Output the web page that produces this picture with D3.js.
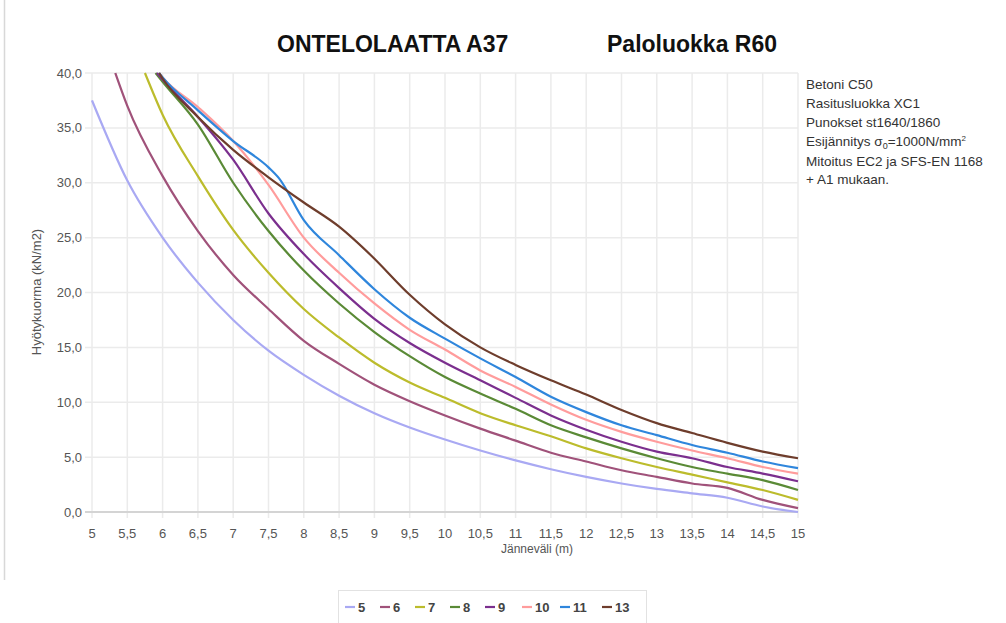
<!DOCTYPE html>
<html>
<head>
<meta charset="utf-8">
<script src="https://cdn.jsdelivr.net/npm/d3@7"></script>
<style>
  html, body { margin: 0; padding: 0; background: #fff; }
  svg { display: block; font-family: "Liberation Sans", Arial, sans-serif; }
</style>
</head>
<body>
<svg id="chart" width="1006" height="623"></svg>
<script>
// Slab depth classes shown in the legend
const categories = ["5", "6", "7", "8", "9", "10", "11", "13"];
const colors = ["#a9a9f3", "#a0527a", "#bcbc2c", "#5a8a36", "#7b2f8e", "#ff9c9c", "#2f86dc", "#6e3d2c"];

// Span (m) / imposed load (kN/m2) pairs for each class
const s5 = [[5,37.5],[5.5,30.2],[6,25.0],[6.5,20.9],[7,17.5],[7.5,14.7],[8,12.5],[8.5,10.6],[9,9.0],[9.5,7.7],[10,6.6],[10.5,5.6],[11,4.7],[11.5,3.9],[12,3.2],[12.5,2.6],[13,2.1],[13.5,1.7],[14,1.3],[14.5,0.5],[15,0.0]];
const s6 = [[5.33,40],[5.5,37.0],[6,30.6],[6.5,25.6],[7,21.6],[7.5,18.5],[8,15.6],[8.5,13.5],[9,11.6],[9.5,10.1],[10,8.8],[10.5,7.6],[11,6.5],[11.5,5.4],[12,4.6],[12.5,3.8],[13,3.2],[13.5,2.6],[14,2.2],[14.5,1.1],[15,0.35]];
const s7 = [[5.75,40],[6,36.2],[6.5,30.6],[7,25.7],[7.5,21.8],[8,18.5],[8.5,15.9],[9,13.6],[9.5,11.8],[10,10.4],[10.5,9.0],[11,7.9],[11.5,6.9],[12,5.8],[12.5,4.9],[13,4.1],[13.5,3.4],[14,2.7],[14.5,2.0],[15,1.1]];
const s8 = [[5.9,40],[6,39.2],[6.5,35.3],[7,30.0],[7.5,25.6],[8,22.0],[8.5,19.0],[9,16.4],[9.5,14.2],[10,12.3],[10.5,10.8],[11,9.4],[11.5,7.9],[12,6.8],[12.5,5.8],[13,4.9],[13.5,4.1],[14,3.5],[14.5,2.9],[15,2.0]];
const s9 = [[5.92,40],[6,39.4],[6.5,36.0],[7,32.1],[7.5,27.2],[8,23.5],[8.5,20.4],[9,17.6],[9.5,15.4],[10,13.6],[10.5,12.0],[11,10.4],[11.5,8.8],[12,7.5],[12.5,6.4],[13,5.5],[13.5,4.9],[14,4.1],[14.5,3.5],[15,2.8]];
const s10 = [[5.95,40],[6,39.6],[6.5,36.9],[7,33.8],[7.5,29.8],[8,25.0],[8.5,21.8],[9,19.0],[9.5,16.6],[10,14.8],[10.5,12.9],[11,11.4],[11.5,9.8],[12,8.4],[12.5,7.3],[13,6.4],[13.5,5.6],[14,4.9],[14.5,4.1],[15,3.5]];
const s11 = [[5.95,40],[6,39.6],[6.5,36.6],[7,33.8],[7.5,31.4],[7.65,30.4],[8,26.6],[8.5,23.4],[9,20.3],[9.5,17.7],[10,15.8],[10.5,14.0],[11,12.3],[11.5,10.5],[12,9.1],[12.5,7.9],[13,7.0],[13.5,6.1],[14,5.4],[14.5,4.6],[15,4.0]];
const s13 = [[5.95,40],[6,39.5],[6.5,36.0],[7,33.0],[7.5,30.5],[8,28.2],[8.5,26.0],[8.95,23.4],[9.5,19.8],[10,17.1],[10.5,15.0],[11,13.4],[11.5,12.0],[12,10.7],[12.5,9.3],[13,8.1],[13.5,7.2],[14,6.3],[14.5,5.5],[15,4.9]];
const seriesData = [s5, s6, s7, s8, s9, s10, s11, s13];

// Axis ticks
const xTicks = d3.range(5, 15.01, 0.5);
const yTicks = [0, 5, 10, 15, 20, 25, 30, 35, 40];

// Note block to the right of the plot
const notes = ["Betoni C50", "Rasitusluokka XC1", "Punokset st1640/1860", "ESIG", "Mitoitus EC2 ja SFS-EN 1168", "+ A1 mukaan."];

const svg = d3.select("#chart");
const plot = { left: 92, right: 798, top: 73, bottom: 512 };

const x = d3.scaleLinear().domain([5, 15]).range([plot.left, plot.right]);
const y = d3.scaleLinear().domain([0, 40]).range([plot.bottom, plot.top]);
const comma = v => String(v).replace(".", ",");

// page frame line at the left edge
svg.append("line").attr("x1", 4.5).attr("x2", 4.5).attr("y1", 0).attr("y2", 580)
  .attr("stroke", "#d8d8d8").attr("stroke-width", 1.5);

// grid
const grid = svg.append("g");
grid.selectAll("line.v").data(xTicks).join("line")
  .attr("x1", d => x(d)).attr("x2", d => x(d))
  .attr("y1", plot.top).attr("y2", plot.bottom + 6)
  .attr("stroke", "#ebebeb").attr("stroke-width", 1.5);
grid.selectAll("line.h").data(yTicks).join("line")
  .attr("x1", plot.left - 7).attr("x2", plot.right)
  .attr("y1", d => y(d)).attr("y2", d => y(d))
  .attr("stroke", d => d === 0 ? "#d4d4d4" : "#ebebeb")
  .attr("stroke-width", d => d === 0 ? 2 : 1.5);

// tick labels
svg.append("g").selectAll("text").data(yTicks).join("text")
  .attr("x", plot.left - 10).attr("y", d => y(d)).attr("dy", "0.35em")
  .attr("text-anchor", "end").attr("font-size", 13).attr("fill", "#555")
  .text(d => d3.format(".1f")(d).replace(".", ","));
svg.append("g").selectAll("text").data(xTicks).join("text")
  .attr("x", d => x(d)).attr("y", 538)
  .attr("text-anchor", "middle").attr("font-size", 13).attr("fill", "#555")
  .text(d => comma(d));

// axis titles
svg.append("text").attr("x", 537).attr("y", 553).attr("text-anchor", "middle")
  .attr("font-size", 12).attr("fill", "#555").text("Jänneväli (m)");
svg.append("text").attr("transform", "translate(41,292) rotate(-90)")
  .attr("text-anchor", "middle").attr("font-size", 13).attr("fill", "#555")
  .text("Hyötykuorma (kN/m2)");

// chart title
svg.append("text").attr("x", 277).attr("y", 52).attr("font-size", 23)
  .attr("font-weight", "bold").attr("fill", "#111").text("ONTELOLAATTA A37");
svg.append("text").attr("x", 607).attr("y", 52).attr("font-size", 23)
  .attr("font-weight", "bold").attr("fill", "#111").text("Paloluokka R60");

// curves
const line = d3.line().x(d => x(d[0])).y(d => y(d[1])).curve(d3.curveMonotoneX);
svg.append("g").selectAll("path").data(seriesData).join("path")
  .attr("d", line).attr("fill", "none")
  .attr("stroke", (d, i) => colors[i]).attr("stroke-width", 2.2)
  .attr("stroke-linejoin", "round");

// notes
const nt = svg.append("g").attr("font-size", 13.5).attr("fill", "#333");
const noteY = [89, 108, 127, 146, 166, 184];
notes.forEach((t, i) => {
  const txt = nt.append("text").attr("x", 806).attr("y", noteY[i]);
  if (t === "ESIG") {
    txt.append("tspan").text("Esijännitys σ");
    txt.append("tspan").attr("font-size", 9).attr("dy", 3).text("0");
    txt.append("tspan").attr("dy", -3).text("=1000N/mm");
    txt.append("tspan").attr("font-size", 8).attr("dy", -5).text("2");
  } else {
    txt.text(t);
  }
});

// legend
const lg = svg.append("g");
lg.append("rect").attr("x", 338.5).attr("y", 590.5).attr("width", 308).attr("height", 40)
  .attr("fill", "#fff").attr("stroke", "#e2e2e2");
const legendX = [345, 380, 415, 450, 485, 522, 560, 602];
categories.forEach((c, i) => {
  const g = lg.append("g").attr("transform", `translate(${legendX[i]},607)`);
  g.append("line").attr("x1", 0).attr("x2", 10).attr("stroke", colors[i]).attr("stroke-width", 2.2);
  g.append("text").attr("x", 13).attr("dy", "0.35em").attr("font-size", 13)
    .attr("font-weight", "bold").attr("fill", "#444").text(c);
});
</script>
</body>
</html>
